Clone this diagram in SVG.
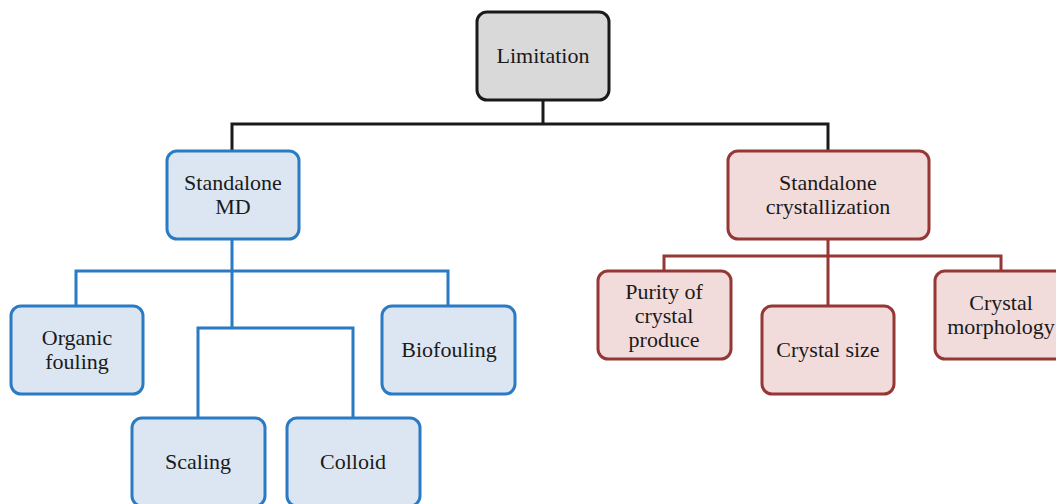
<svg xmlns="http://www.w3.org/2000/svg" width="1056" height="504" viewBox="0 0 1056 504">
<style>
text{font-family:"Liberation Serif","Times New Roman",serif;font-size:22px;fill:#1a1a1a;text-anchor:middle}
.root{fill:#d9d9d9;stroke:#1a1a1a;stroke-width:3}
.blue{fill:#dce6f2;stroke:#2a7bc4;stroke-width:3}
.red{fill:#f2dcdb;stroke:#953735;stroke-width:3}
.cb{fill:none;stroke:#1a1a1a;stroke-width:3}
.cbl{fill:none;stroke:#2a7bc4;stroke-width:3}
.cr{fill:none;stroke:#953735;stroke-width:3}
</style>
<g id="connectors">
<path class="cb" d="M543 100V124M232 150V124H828V150"/>
<path class="cbl" d="M232 239V328M76 306V271H448V306M198 418V328H353V418"/>
<path class="cr" d="M828 239V306M664 271V256H1001V271"/>
</g>
<g id="limitation"><rect class="root" x="477" y="12" width="132" height="88" rx="10"/><text x="543" y="63">Limitation</text></g>
<g id="standalone-md"><rect class="blue" x="167" y="151" width="132" height="88" rx="10"/><text x="233" y="190">Standalone</text><text x="233" y="214">MD</text></g>
<g id="standalone-cryst"><rect class="red" x="728" y="151" width="201" height="88" rx="10"/><text x="828" y="190">Standalone</text><text x="828" y="214">crystallization</text></g>
<g id="organic"><rect class="blue" x="11" y="306" width="132" height="88" rx="10"/><text x="77" y="345">Organic</text><text x="77" y="369">fouling</text></g>
<g id="biofouling"><rect class="blue" x="382" y="306" width="133" height="88" rx="10"/><text x="449" y="357">Biofouling</text></g>
<g id="scaling"><rect class="blue" x="132" y="418" width="133" height="88" rx="10"/><text x="198" y="469">Scaling</text></g>
<g id="colloid"><rect class="blue" x="287" y="418" width="133" height="88" rx="10"/><text x="353" y="469">Colloid</text></g>
<g id="purity"><rect class="red" x="598" y="271" width="133" height="88" rx="10"/><text x="664" y="299">Purity of</text><text x="664" y="323">crystal</text><text x="664" y="347">produce</text></g>
<g id="crystal-size"><rect class="red" x="762" y="306" width="132" height="88" rx="10"/><text x="828" y="357">Crystal size</text></g>
<g id="morphology"><rect class="red" x="935" y="271" width="132" height="88" rx="10"/><text x="1001" y="310">Crystal</text><text x="1001" y="334">morphology</text></g>
</svg>
